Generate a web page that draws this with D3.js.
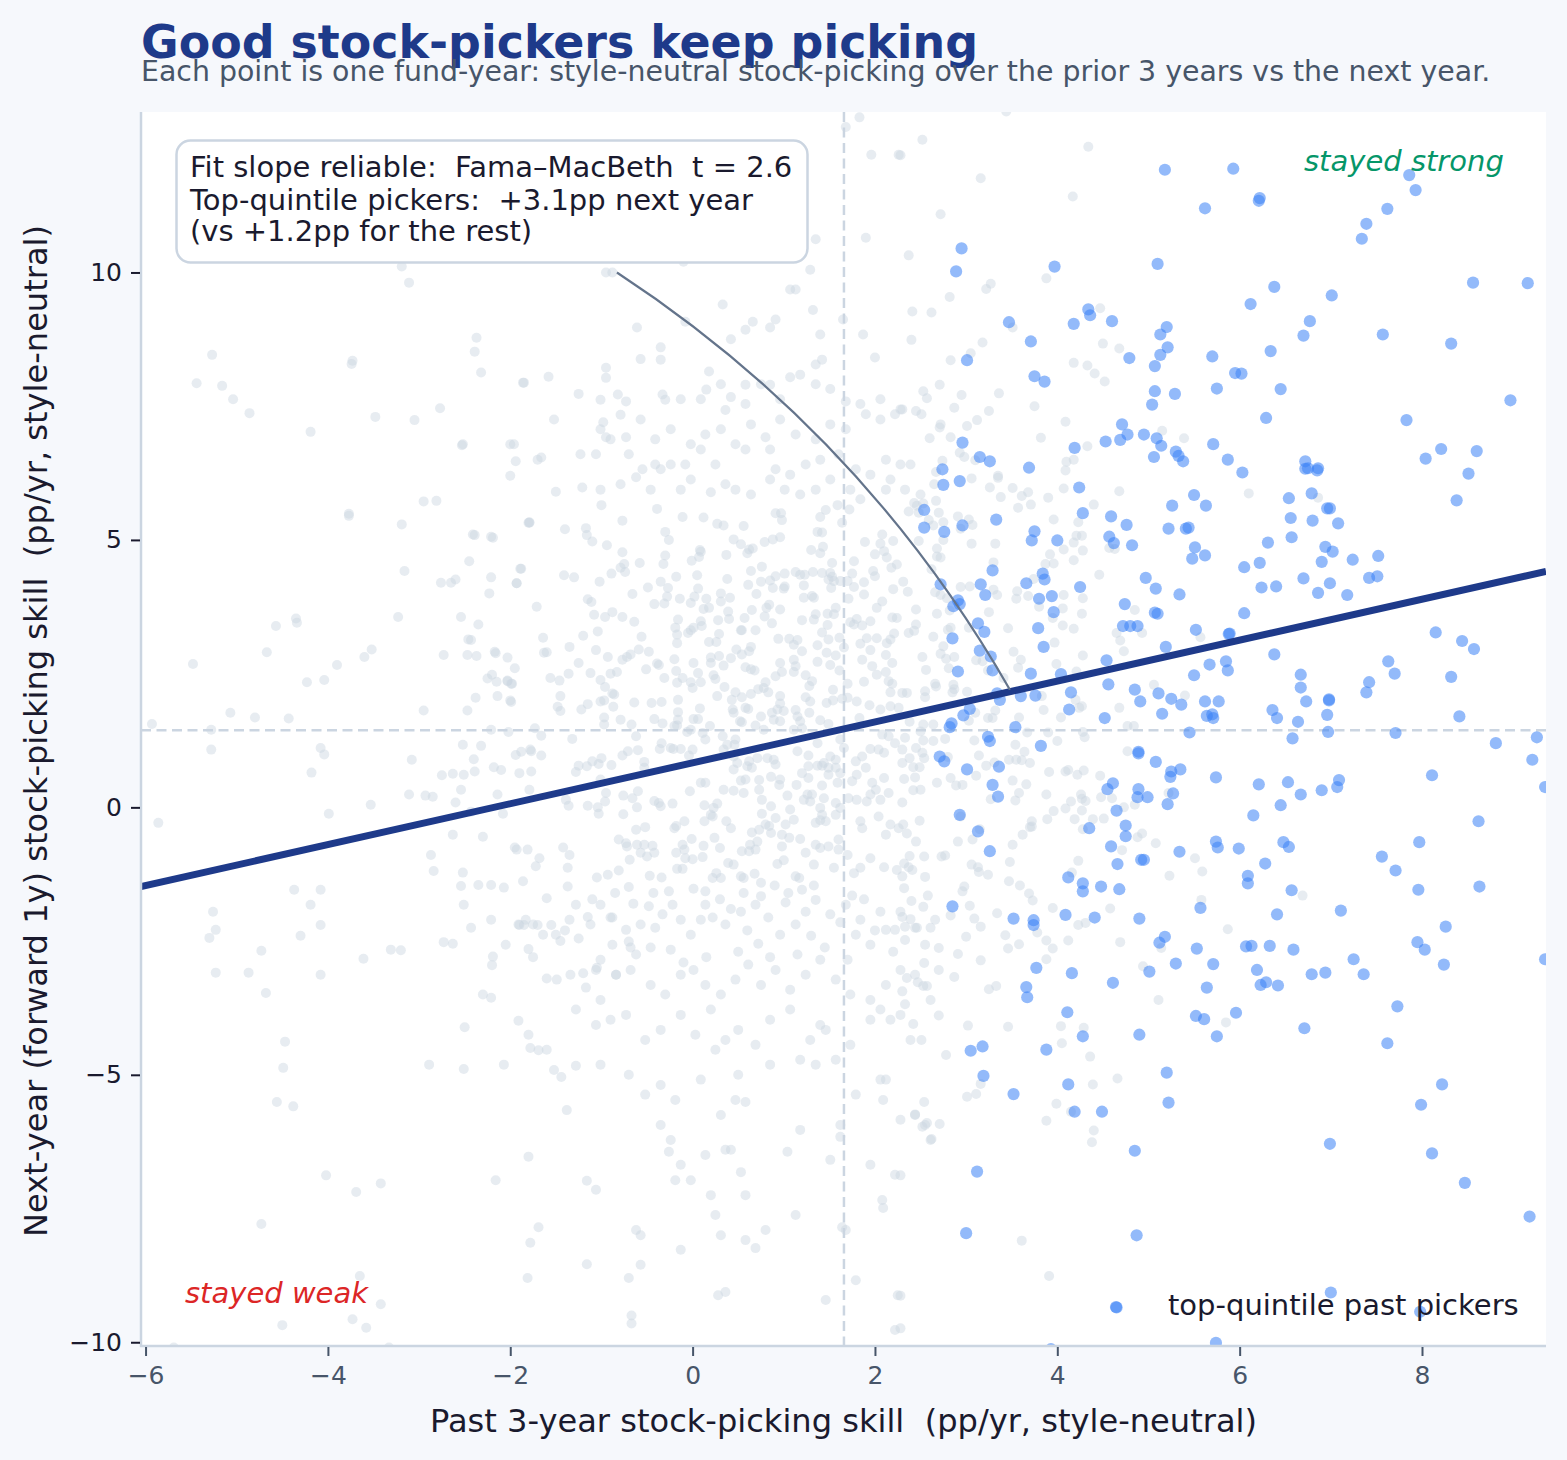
<!DOCTYPE html>
<html>
<head>
<meta charset="utf-8">
<script src="https://cdn.jsdelivr.net/npm/d3@7"></script>
<style>
html,body{margin:0;padding:0;background:#f6f8fc;}
svg{display:block;font-family:"DejaVu Sans",sans-serif;}
text{white-space:pre;}
</style>
</head>
<body>
<svg id="chart" width="1567" height="1460"></svg>
<script>
// Labels and axis settings
const titleText = "Good stock-pickers keep picking";
const subtitleText = "Each point is one fund-year: style-neutral stock-picking over the prior 3 years vs the next year.";
const xLabel = "Past 3-year stock-picking skill  (pp/yr, style-neutral)";
const yLabel = "Next-year (forward 1y) stock-picking skill  (pp/yr, style-neutral)";
const noteLines = ["Fit slope reliable:  Fama–MacBeth  t = 2.6", "Top-quintile pickers:  +3.1pp next year", "(vs +1.2pp for the rest)"];
const legendLabel = "top-quintile past pickers";
const xTicks = [-6, -4, -2, 0, 2, 4, 6, 8];
const yTicks = [-10, -5, 0, 5, 10];
const xDomain = [-6.05, 9.36];
const yDomain = [-10.07, 13.0];

// Reference levels and fitted line
const medianPast = 1.66;
const medianNext = 1.44;
const fitX = [-6.05, 9.36];
const fitY = [-1.48, 4.41];
const calloutFrom = [-0.83, 10.0];
const calloutTo = [3.48, 2.2];

// Fund-years in the top quintile of past skill: [past, next]
const topPickers = [
[5.18,11.92],[5.93,11.94],[5.62,11.2],[2.95,10.45],[2.89,10.02],[3.97,10.11],[5.10,10.16],[4.34,9.31],[4.36,9.2],[3.47,9.07],[4.18,9.04],[4.6,9.09],[3.71,8.71],[5.2,8.98],[5.13,8.84],[5.21,8.6],[5.13,8.46],[4.79,8.4],[5.07,8.25],[5.7,8.43],[3.01,8.36],[3.75,8.06],[3.86,7.96],[5.07,7.78],[5.29,7.73],[5.04,7.53],[5.75,7.83],
[6.22,11.39],[6.21,11.34],[7.86,11.82],[7.93,11.54],[7.62,11.19],[7.39,10.91],[7.34,10.63],[6.38,9.73],[6.12,9.41],[7.01,9.57],[8.56,9.81],[9.16,9.8],[6.77,9.09],[6.7,8.82],[7.57,8.84],[8.32,8.67],[6.34,8.53],[5.95,8.12],[6.02,8.11],[6.45,7.82],[8.97,7.61],
[4.71,7.16],[4.77,6.97],[4.69,6.87],[4.53,6.84],[4.95,6.97],[5.09,6.9],[5.14,6.76],[5.06,6.55],[5.3,6.65],[5.33,6.57],[5.38,6.47],[5.71,6.79],[5.87,6.5],[4.19,6.72],[2.96,6.82],[3.15,6.55],[3.26,6.47],[3.69,6.35],[2.74,6.32],[2.75,6.03],[2.93,6.1],[4.24,5.98],[5.5,5.84],[5.26,5.64],[5.63,5.64],[2.54,5.56],[2.54,5.23],[2.76,5.15],[2.96,5.27],[3.33,5.38],[4.28,5.5],[4.59,5.44],[4.76,5.28],[5.22,5.21],[5.41,5.21],[5.44,5.23],[3.75,5.16],[3.72,4.99],[4.0,4.99],[4.57,5.06],[4.62,4.94],[4.82,4.9],[5.51,4.86],[5.62,4.71],[5.48,4.65],[3.29,4.43],[3.84,4.37],[3.86,4.26],[3.66,4.19],[3.16,4.17],[3.21,3.97],[2.72,4.17],[2.91,3.87],[2.93,3.8],[2.86,3.76],[4.25,4.12],[4.97,4.29],[5.08,4.09],[5.34,3.98],[3.94,3.95],[3.8,3.9],[3.96,3.65],[4.74,3.8],[5.07,3.64],[5.1,3.62],[4.72,3.39],[4.8,3.39],[4.88,3.39],[3.13,3.44],[3.2,3.28],[2.85,3.16],[3.79,3.35],[3.85,3.0],[5.52,3.32],[5.88,3.24],[3.15,2.93],[3.27,2.82],[5.19,3.0],[4.54,2.75],[5.67,2.67],[5.85,2.73],[5.87,2.56],[2.91,2.54],[3.29,2.56],[3.71,2.5],[5.5,2.47],[4.04,2.49],[4.56,2.3],[4.15,2.15],[4.85,2.2],[5.11,2.13],[5.25,2.03],[4.91,1.98],[3.34,2.13],[3.6,2.08],[3.76,2.09],
[6.29,7.28],[7.83,7.24],[8.04,6.52],[8.21,6.7],[8.6,6.66],[8.51,6.24],[8.38,5.74],[6.03,6.26],[6.72,6.47],[6.72,6.33],[6.75,6.34],[6.86,6.34],[6.85,6.3],[6.54,5.78],[6.79,5.87],[6.96,5.59],[6.99,5.59],[6.56,5.41],[6.8,5.36],[7.08,5.31],[6.57,5.05],[6.31,4.95],[6.94,4.87],[7.02,4.78],[6.9,4.59],[7.24,4.63],[7.52,4.7],[6.22,4.57],[6.05,4.49],[7.42,4.29],[7.51,4.32],[6.7,4.28],[6.99,4.19],[6.24,4.11],[6.4,4.13],[6.86,4.01],[7.18,3.97],[6.05,3.63],[5.89,3.25],[8.15,3.27],[8.44,3.11],[8.57,2.96],[6.38,2.86],[7.63,2.73],[7.7,2.5],[8.32,2.44],[6.67,2.48],[6.67,2.24],[7.42,2.34],[7.39,2.15],[6.73,1.98],[6.98,2.0],
[5.36,1.92],[5.62,1.98],[5.77,1.98],[5.15,1.75],[5.64,1.71],[5.7,1.74],[5.71,1.67],[4.13,1.83],[4.52,1.67],[3.54,1.5],[5.45,1.4],[3.37,2.01],[3.04,1.84],[2.97,1.72],[2.84,1.57],[2.82,1.5],[3.24,1.32],[3.26,1.24],[3.82,1.15],[4.89,1.04],[4.89,1.01],[5.08,0.85],[5.35,0.71],[5.25,0.67],[5.24,0.57],[5.74,0.56],[2.71,0.95],[2.76,0.86],[3.01,0.71],[3.36,0.76],[3.29,0.42],[3.35,0.2],[4.61,0.45],[4.55,0.34],[4.89,0.34],[4.88,0.19],[4.99,0.19],[5.27,0.26],[5.21,0.06],[4.65,-0.06],[2.93,-0.14],[4.75,-0.34],[4.75,-0.54],[3.13,-0.45],[4.35,-0.39],[3.26,-0.82],[4.59,-0.73],[5.74,-0.64],[5.76,-0.75],[5.34,-0.83],[4.92,-0.98],[4.95,-0.98],[4.66,-1.06],[4.12,-1.31],[4.28,-1.42],[4.28,-1.57],[4.48,-1.48],[4.68,-1.53],[2.85,-1.85],[5.57,-1.88],[3.52,-2.08],[3.74,-2.11],[3.74,-2.2],[4.09,-2.01],[4.41,-2.06],[4.9,-2.08],[5.18,-2.42],[5.12,-2.53],[5.53,-2.64],[5.3,-2.92],[5.71,-2.93],[3.77,-3.0],[4.16,-3.1],[5.01,-3.07],[4.61,-3.28],[3.66,-3.36],[5.64,-3.37],
[6.98,2.02],[6.36,1.82],[6.41,1.67],[6.64,1.6],[6.96,1.73],[6.97,1.41],[6.58,1.29],[8.41,1.7],[7.71,1.39],[8.81,1.2],[9.26,1.31],[9.21,0.89],[8.11,0.6],[6.21,0.43],[6.53,0.47],[7.09,0.51],[7.07,0.38],[6.9,0.32],[6.67,0.24],[6.45,0.04],[6.15,-0.15],[9.35,0.38],[8.62,-0.26],[7.97,-0.65],[5.99,-0.77],[6.48,-0.65],[6.54,-0.74],[7.56,-0.92],[7.71,-1.18],[6.28,-1.05],[6.09,-1.28],[6.09,-1.42],[6.57,-1.55],[7.96,-1.54],[8.63,-1.48],[7.11,-1.93],[6.41,-2.0],[8.26,-2.23],[7.95,-2.52],[8.03,-2.66],[6.07,-2.6],[6.13,-2.59],[6.33,-2.59],[6.59,-2.66],[7.25,-2.84],[9.35,-2.84],[8.24,-2.94],[6.19,-3.04],[6.79,-3.12],[6.94,-3.09],[7.36,-3.12],[6.29,-3.27],[6.23,-3.32],[6.42,-3.33],
[3.67,-3.55],[4.11,-3.83],[5.52,-3.9],[5.61,-3.96],[5.75,-4.28],[4.9,-4.25],[4.28,-4.28],[3.88,-4.53],[3.18,-4.47],[3.05,-4.55],[5.2,-4.96],[3.19,-5.02],[4.12,-5.18],[5.22,-5.52],[3.52,-5.36],[4.19,-5.69],[4.49,-5.69],[4.85,-6.42],[3.12,-6.81],[3.0,-7.96],[4.87,-8.0],[4.65,-9.35],[5.74,-10.01],[3.93,-10.13],
[5.96,-3.84],[6.71,-4.13],[7.73,-3.72],[7.62,-4.41],[8.22,-5.18],[7.99,-5.56],[6.99,-6.29],[8.11,-6.47],[8.47,-7.02],[9.18,-7.65],[7.0,-9.07],[7.98,-9.43]
];

// All remaining fund-years: [past, next]
const otherFunds = [
[3.44,13.01],[2.52,12.48],[2.28,12.19],[4.34,12.35],[3.16,11.76],[4.17,11.42],[2.72,11.09],[2.37,10.32],[3.88,9.89],[3.27,9.79],[3.22,9.69],[2.82,9.54],[2.41,9.27],[2.62,9.25],[4.47,9.33],[3.51,8.97],[2.4,8.74],[3.18,8.69],[4.5,8.67],[4.68,8.58],[3.05,8.49],[2.83,8.36],[4.18,8.31],[4.33,8.26],[4.41,8.11],[4.52,7.96],[2.71,7.9],[2.53,7.78],[2.57,7.65],[2.95,7.71],[3.36,7.74],[2.87,7.47],[3.75,7.5],[3.25,7.41],[2.45,7.41],[2.3,7.44],
[2.51,7.35],[3.12,7.24],[4.09,7.21],[2.72,7.16],[2.71,7.1],[3.01,7.13],[5.15,7.04],[2.6,6.9],[2.83,6.92],[3.82,6.91],[5.39,6.9],[4.33,6.75],[2.93,6.63],[2.98,6.55],[3.1,6.49],[2.74,6.48],[4.1,6.46],[4.18,6.5],[4.09,6.3],[2.67,6.27],[3.06,6.15],[3.35,6.2],[3.35,6.16],[2.65,6.04],[3.26,5.98],[3.51,5.97],[4.07,5.96],[4.68,5.91],[3.68,5.89],[3.61,5.82],[3.9,5.79],[3.38,5.8],[2.5,5.85],[2.67,5.73],[2.43,5.69],[2.53,5.68],[2.46,5.64],[4.4,5.66],[3.71,5.66],[3.57,5.6],[2.37,5.53],[2.48,5.51],[2.7,5.51],[2.91,5.44],[3.03,5.38],[2.59,5.37],[3.96,5.38],[2.75,5.33],[2.64,5.27],[3.07,5.28],[4.23,5.33],[2.94,5.21],[4.21,5.08],[4.27,5.08],[4.18,4.95],[2.48,4.98],[2.75,5.0],[3.06,4.93],[3.32,4.93],[2.68,4.84],[4.07,4.82],[4.28,4.8],[4.57,4.85],[4.63,4.83],[3.92,4.73],[2.68,4.69],[2.72,4.67],[4.18,4.62],[3.87,4.55],[3.96,4.56],[3.3,4.58],[2.62,4.45],[4.46,4.35],[3.74,4.27],[2.31,4.22],[2.94,4.12],[3.04,4.13],[3.3,4.07],[2.36,4.03],[2.66,4.02],[3.56,4.04],[3.34,3.97],[2.72,3.97],[2.79,3.91],[3.55,3.9],[3.68,3.95],[4.07,3.97],[4.28,3.91],[2.45,3.7],[3.8,3.75],[4.06,3.72],[4.85,3.69],[2.68,3.62],[2.82,3.68],[3.25,3.65],[4.27,3.62],[3.95,3.54],[2.45,3.42],[4.06,3.4],[3.46,3.35],[4.18,3.34],[3.03,3.36],[2.8,3.32],[2.83,3.36],[2.37,3.26],[2.43,3.3],[2.64,3.19],[4.65,3.26],[4.93,3.26],[4.69,3.12],[5.57,3.18],[3.97,3.08],[2.75,3.01],[3.52,2.91],[4.73,2.92],[2.72,2.87],[2.78,2.78],[2.87,2.81],[2.52,2.81],[3.6,2.76],[4.28,2.84],[3.11,2.75],[3.18,2.73],[3.99,2.68],[3.57,2.61],[2.56,2.57],[2.81,2.6],[4.21,2.54],[3.24,2.56],[3.41,2.42],[2.66,2.31],[2.67,2.26],[2.86,2.29],[2.87,2.21],[2.85,2.15],[3.01,2.16],[2.55,2.17],[2.55,2.06],[2.35,2.14],[2.3,2.14],[5.06,2.29],[5.4,2.09],[3.83,2.08],
[4.2,2.01],[4.27,1.89],[4.24,1.86],[3.85,1.82],[4.04,1.68],[4.68,1.86],[3.32,1.81],[3.1,1.77],[3.24,1.67],[3.29,1.67],[3.03,1.62],[3.58,1.68],[2.53,1.55],[2.64,1.55],[2.38,1.6],[2.5,1.42],[3.67,1.4],[3.9,1.4],[4.77,1.52],[4.84,1.52],[4.28,1.41],[4.3,1.31],[2.33,1.3],[2.53,1.25],[2.64,1.24],[2.77,1.28],[3.09,1.25],[4.0,1.24],[3.54,1.17],[3.64,1.04],[2.45,1.11],[2.52,1.02],[2.3,1.08],[4.77,1.05],[3.14,0.97],[2.54,0.92],[2.8,0.94],[2.38,0.92],[3.47,0.89],[3.55,0.89],[3.61,0.88],[3.7,0.83],[3.22,0.78],[3.31,0.84],[2.42,0.75],[2.49,0.75],[2.3,0.83],[3.91,0.66],[4.09,0.67],[4.12,0.7],[4.22,0.61],[4.29,0.69],[4.47,0.59],[3.11,0.59],[2.83,0.55],[2.44,0.56],[2.32,0.53],[3.51,0.5],[3.66,0.43],[2.68,0.46],[2.89,0.41],[2.96,0.42],[2.42,0.32],[2.5,0.33],[3.58,0.27],[3.88,0.24],[3.27,0.15],[3.54,0.13],[4.26,0.24],[4.27,0.16],[4.31,0.12],[4.15,0.11],[4.48,0.19],[4.6,0.17],[4.85,0.05],[4.73,0],[2.3,0.09],[5.22,0.27],[3.96,-0.07],[4.09,-0.02],[4.27,-0.06],[2.94,-0.17],[4.19,-0.22],[4.39,-0.22],[4.51,-0.21],[3.89,-0.22],[2.49,-0.25],[3.72,-0.26],[3.72,-0.36],[3.7,-0.37],[2.31,-0.32],[2.35,-0.49],[3.62,-0.51],[3.15,-0.41],[4.28,-0.41],[4.88,-0.56],[4.93,-0.49],[3.07,-0.6],[2.45,-0.64],[2.91,-0.64],[3.51,-0.7],[5.08,-0.67],[4.71,-0.8],[2.54,-0.92],[2.38,-0.91],[2.73,-0.92],[2.77,-0.9],[5.51,-0.95],[4.23,-1.0],[3.48,-1.02],[3.06,-1.07],[3.13,-1.12],[3.14,-1.21],[2.32,-1.05],[2.37,-1.12],[2.41,-1.17],[3.24,-1.26],[2.55,-1.3],[5.59,-1.2],[5.23,-1.28],[4.16,-1.22],[2.3,-1.29],[3.47,-1.38],[3.59,-1.46],[2.98,-1.48],[2.96,-1.57],[2.32,-1.51],[3.69,-1.61],[3.73,-1.74],[2.58,-1.65],[5.58,-1.73],[2.53,-1.86],[3.04,-1.84],[3.95,-1.88],[4.58,-1.89],[2.83,-2.02],[3.34,-1.98],[3.09,-2.08],[2.39,-2.09],[2.3,-2.05],[2.33,-2.23],[2.46,-2.25],[2.61,-2.25],[3.16,-2.23],[4.23,-2.2],[4.31,-2.16],[3.78,-2.34],[3.0,-2.42],[3.43,-2.39],[3.88,-2.49],[3.95,-2.64],[4.12,-2.49],[4.69,-2.52],[5.14,-2.63],[2.7,-2.63],[3.58,-2.56],[3.46,-2.64],[2.91,-2.74],[3.88,-2.84],[3.16,-2.86],[2.54,-2.91],[4.94,-2.97],[2.7,-3.04],[2.87,-3.17],[2.35,-3.19],[2.47,-3.27],[2.57,-3.34],[2.53,-3.34],[3.25,-3.4],[3.33,-3.34],
[5.11,-3.6],[2.3,-3.44],[2.33,-3.68],[2.7,-3.89],[2.42,-4.05],[3.02,-4.08],[3.46,-4.1],[4.04,-4.09],[4.29,-4.12],[5.85,-4.02],[2.51,-4.35],[4.05,-4.41],[2.78,-4.63],[4.36,-4.66],[4.66,-5.07],[3.16,-5.17],[4.39,-5.18],[3.11,-5.36],[3.01,-5.41],[2.54,-5.51],[3.99,-5.54],[2.44,-5.74],[4.15,-5.69],[2.57,-5.9],[2.52,-5.97],[2.71,-5.92],[3.88,-5.86],[4.4,-6.04],[4.38,-6.26],[2.62,-6.2],[3.61,-8.1],[3.91,-8.76],[2.28,-6.88],[2.28,-9.13],[2.28,-9.74],
[6.1,5.87],[6.86,5.79],[5.87,-2.28],[6.69,-1.65],
[-5.27,8.46],[-5.44,7.93],[-5.16,7.88],[-5.04,7.63],[-4.86,7.37],[-4.19,7.02],[-3.73,8.35],[-3.74,8.29],[-2.37,8.78],[-2.39,8.52],[-2.32,8.13],[-1.85,7.94],[-3.48,7.3],[-3.05,7.24],[-2.77,7.46],[-2.52,6.79],[-1.96,6.79],[-2.0,6.2],[-2.81,5.73],[-3.77,5.49],[-3.77,5.45],[-3.19,5.29],[-2.39,5.09],[-2.19,5.04],[-1.8,5.32],[-3.16,4.42],[-2.65,4.2],[-2.23,4.0],[-1.89,4.46],[-1.93,4.19],[-3.23,3.56],[-2.54,3.56],[-4.57,3.39],[-4.35,3.53],[-4.34,3.45],[-4.67,2.9],[-2.46,3.14],[-3.52,2.95],[-3.6,2.81],[-2.17,2.91],[-2.73,2.85],[-2.37,2.83],[-5.48,2.68],[-3.9,2.66],[-4.04,2.38],[-4.23,2.34],[-2.25,2.41],[-2.03,2.36],[-1.98,2.31],[-2.14,2.08],[-2.0,2.0],
[-1.79,5.32],[-1.79,5.33],[-1.0,5.65],[-0.39,5.58],[-0.11,5.43],[0.12,5.42],[0.27,5.3],[0.34,5.27],[0.56,5.26],[-0.77,5.36],[-1.17,5.22],[-1.16,5.09],[-1.1,4.97],[-0.3,5.15],[-0.26,5.0],[-0.94,4.9],[-0.77,4.77],[0.45,5.01],[0.53,4.92],[0.62,4.82],[0.66,4.84],[0.6,4.75],[0.79,4.96],[0.88,5.01],[0.96,5.05],[0.91,5.5],[0.97,5.5],[0.98,5.37],[1.4,5.43],[1.46,5.56],[1.59,5.65],[1.72,5.57],[1.64,5.32],[1.37,5.15],[1.42,5.14],[1.3,4.81],[1.4,4.75],[1.43,4.87],[1.89,4.96],[2.06,4.93],[2.08,5.1],[2.0,4.73],[2.1,4.79],[2.13,4.67],[2.2,4.98],[1.77,4.6],[2.18,4.48],[2.24,4.54],[1.53,4.57],[0.08,4.81],[0.09,4.78],[-0.01,4.61],[0.07,4.68],[0.37,4.72],[-0.3,4.71],[-0.32,4.55],[-0.58,4.57],[-0.75,4.55],[-0.79,4.48],[-0.74,4.4],[-0.89,4.37],[-1.41,4.34],[-1.88,4.46],[-1.93,4.19],[-1.02,4.22],[-0.49,4.11],[-0.35,4.22],[-0.27,4.1],[-0.18,4.31],[0.05,4.34],[0.06,4.09],[0.38,4.27],[0.64,4.42],[0.76,4.5],[0.61,4.16],[0.75,4.22],[0.85,4.24],[0.91,4.32],[1.01,4.37],[1.13,4.4],[1.18,4.35],[1.23,4.35],[1.32,4.4],[1.42,4.38],[1.51,4.38],[1.53,4.31],[1.49,4.26],[1.55,4.23],[1.62,4.23],[1.7,4.23],[1.75,4.37],[1.77,4.12],[1.88,4.21],[1.98,4.42],[2.0,4.32],[0.88,4.1],[1.0,4.09],[1.01,4.13],[1.22,4.15],[1.52,4.1],[-0.66,3.99],[-1.15,3.89],[-1.11,3.84],[-1.71,3.75],[-0.42,3.8],[-0.31,3.81],[-0.28,3.94],[-0.14,3.9],[-0.02,3.82],[0.02,3.94],[0.15,3.9],[0.31,4.0],[0.31,3.85],[0.41,3.92],[0.7,3.99],[1.22,3.92],[1.31,3.95],[1.33,3.92],[1.71,3.9],[1.88,3.98],[2.2,4.08],[2.08,3.85],[2.02,3.73],[0.12,3.71],[0.18,3.73],[0.84,3.79],[0.81,3.73],[0.79,3.57],[0.96,3.7],[0.65,3.69],[0.57,3.54],[0.39,3.66],[0.4,3.52],[1.57,3.73],[1.55,3.61],[1.48,3.62],[1.35,3.61],[1.33,3.51],[1.2,3.5],[-0.88,3.65],[-0.96,3.56],[-1.08,3.6],[-0.77,3.56],[-0.64,3.47],[-0.16,3.51],[-0.19,3.36],[0.09,3.48],[0.1,3.39],[0.01,3.36],[-0.02,3.31],[0.28,3.5],[-0.17,3.23],[-0.05,3.26],[0.87,3.44],[1.48,3.41],[1.73,3.46],[1.8,3.52],[1.77,3.42],[1.86,3.4],[1.95,3.48],[2.19,3.55],[2.24,3.54],[0.53,3.31],[0.54,3.31],[0.69,3.31],[-1.04,3.29],[-1.2,3.21],[-1.64,3.17],[-0.56,3.19],[0.29,3.24],[-0.17,3.07],[0.18,3.09],[0.26,3.09],[0.94,3.15],[1.06,3.15],[1.15,3.13],[1.11,3.04],[1.42,3.27],[1.49,3.14],[1.61,3.17],[1.66,2.99],[1.37,3.03],[1.84,3.06],[1.91,3.16],[2.02,3.16],[2.13,3.07],[2.17,3.14],[2.21,3.25],[1.95,2.94],[-1.06,2.94],[-1.63,2.89],[-0.59,2.95],[-0.48,2.91],[-0.72,2.81],[-0.68,2.86],[-0.77,2.76],[-0.93,2.81],[-0.2,2.77],[0.48,2.95],[0.54,2.86],[0.62,2.92],[0.64,3.0],[0.42,2.79],[0.2,2.8],[0.29,2.83],[0.2,2.7],[0.34,2.65],[0.01,2.7],[-0.39,2.69],[-0.37,2.66],[-0.51,2.58],[-0.18,2.55],[0.06,2.51],[0.58,2.62],[0.64,2.58],[0.68,2.56],[0.96,2.7],[1.11,2.76],[1.13,2.64],[1.11,2.53],[1.2,2.92],[1.37,2.72],[1.47,2.89],[1.57,2.84],[1.51,2.66],[1.61,2.56],[1.86,2.76],[1.97,2.64],[2.12,2.85],[2.19,2.7],[-1.36,2.5],[-1.56,2.42],[-1.46,2.37],[-1.12,2.51],[-0.9,2.5],[-0.83,2.53],[-1.01,2.38],[-2.03,2.37],[-1.99,2.31],[-0.31,2.42],[-0.11,2.42],[-0.02,2.34],[0.0,2.23],[-0.17,2.33],[0.09,2.34],[0.23,2.47],[0.25,2.4],[0.91,2.45],[0.98,2.53],[1.24,2.47],[1.31,2.36],[1.28,2.27],[1.7,2.31],[1.88,2.35],[2.02,2.48],[2.12,2.53],[2.15,2.36],[2.19,2.31],[2.17,2.15],[0.8,2.34],[0.78,2.23],[0.83,2.15],[0.72,2.21],[0.64,2.12],[0.47,2.15],[0.43,2.01],[0.35,2.25],[0.27,2.08],[-0.96,2.25],[-0.88,2.13],[-0.86,2.11],[-0.97,2.0],[-1.01,1.98],[-1.45,2.08],[-1.99,1.97],[-1.15,1.93],[-1.22,1.83],[-1.48,1.88],[-1.45,1.8],[-0.64,1.96],[-0.45,1.95],[-0.34,1.97],[-0.16,2.01],[0.08,1.85],[-0.87,1.88],[0.54,2.06],[0.96,2.08],[0.96,1.94],[1.24,2.06],[1.29,1.98],[1.54,2.2],[1.47,1.95],[1.54,2.0],[1.64,2.03],[1.7,2.05],[1.8,1.98],[1.94,1.91],[2.06,1.83],[2.17,1.89],[2.26,1.86],[0.44,1.83],[0.45,1.77],[0.58,1.86],[0.61,1.84],[0.87,1.77],[0.93,1.83],[1.0,1.8],[0.89,1.64],[0.96,1.61],[1.13,1.82],[1.15,1.7],[1.18,1.61],[1.28,1.77],[0.75,1.7],[0.52,1.61],[0.54,1.59],[1.4,1.63],[1.49,1.56],[-0.16,1.78],[-0.16,1.64],[-0.17,1.53],[0.01,1.65],[0.06,1.65],[-0.97,1.68],[-0.97,1.55],[-0.79,1.64],[-0.67,1.55],[-0.42,1.65],[-0.33,1.57],[-0.2,1.52],[0.19,1.52],[0.69,1.53],[0.78,1.45],[1.11,1.45],[1.2,1.48],[1.83,1.67],[-1.73,1.48],[-2.02,1.41],[-1.66,1.34],[-1.32,1.28],[-0.62,1.33],[-0.06,1.41],[-0.02,1.45],[0.11,1.39],[0.14,1.27],[0.33,1.33],[0.47,1.27],[0.46,1.17],[0.38,1.17],[1.62,1.27],[1.37,1.2],[2.08,1.36],[2.15,1.33],[2.22,1.2],[-0.34,1.2],[-0.36,1.09],[-0.24,1.11],[-0.21,1.09],[-0.13,1.09],[-0.6,1.07],[-0.71,1.05],[-0.77,0.97],[-1.77,1.05],[-1.66,0.97],[-1.94,0.98],[0.0,1.08],[-0.04,0.97],[0.34,1.08],[0.45,0.95],[1.15,1.05],[1.27,0.97],[1.66,1.11],[1.95,1.09],[1.86,0.95],[1.79,0.86],[2.04,1.08],[2.1,1.02],[1.51,0.95],[1.44,0.83],[1.57,0.89],[0.82,0.92],[0.89,0.89],[0.91,0.8],[0.71,0.92],[0.62,0.86],[0.6,0.77],[0.65,0.74],[0.49,0.83],[0.45,0.71],[-1.0,0.92],[-1.1,0.86],[-1.03,0.81],[-1.16,0.77],[-1.25,0.78],[-0.89,0.79],[-0.53,0.85],[-0.53,0.74],[-1.28,0.66],[-1.77,0.67],[-1.9,0.64],[1.37,0.78],[1.42,0.78],[1.49,0.74],[1.57,0.74],[1.62,0.64],[1.2,0.64],[1.27,0.77],[1.27,0.55],[1.49,0.61],[1.8,0.61],[1.9,0.74],[0.86,0.57],[0.96,0.52],[0.73,0.51],[0.58,0.52],[0.53,0.5],[1.14,0.42],[1.42,0.41],[1.59,0.46],[2.1,0.55],[1.97,0.46],[1.75,0.49],[0.09,0.46],[0.14,0.46],[-1.01,0.52],[-1.79,0.33],[-0.95,0.27],[-0.96,0.11],[-1.04,0.0],[-1.03,-0.12],[-1.15,0.03],[-0.76,0.22],[-0.66,0.17],[-0.6,0.3],[-0.61,0.0],[-0.76,-0.13],[-1.39,0.14],[-1.36,0.03],[-0.03,0.3],[0.34,0.33],[0.45,0.31],[0.56,0.27],[0.73,0.33],[0.76,0.14],[0.86,0.02],[0.95,0.42],[1.04,0.22],[1.26,0.24],[1.31,0.24],[1.22,0.14],[1.29,0.11],[1.44,0.17],[1.57,0.08],[1.71,0.17],[1.8,0.14],[1.91,0.11],[1.95,0.24],[2.01,0.33],[2.15,0.27],[2.06,0.14],[-0.42,0.12],[-0.37,0.08],[-0.35,0.02],[-0.22,0.07],[0.13,0.04],[0.27,0.07],[0.23,-0.01],[0.2,-0.14],[0.22,-0.17],[0.76,-0.12],[1.07,-0.04],[1.4,-0.01],[1.62,-0.01],[1.57,-0.14],[1.42,-0.14],[1.4,-0.24],[1.35,-0.29],[1.46,-0.26],[0.91,-0.2],[0.8,-0.32],[0.84,-0.35],[1.02,-0.32],[1.11,-0.23],[1.84,-0.26],[2.04,-0.17],[2.17,-0.32],[2.26,-0.39],[-0.09,-0.26],[-0.18,-0.35],[-0.2,-0.39],[0.13,-0.26],[0.37,-0.26],[0.42,-0.39],[-0.62,-0.42],[-0.52,-0.37],[0.65,-0.47],[0.73,-0.42],[0.86,-0.48],[0.98,-0.51],[1.06,-0.57],[1.18,-0.59],[1.6,-0.6],[1.86,-0.39],[2.12,-0.51],[-0.81,-0.6],[-0.73,-0.67],[-0.72,-0.73],[-0.61,-0.7],[-0.53,-0.7],[-0.44,-0.72],[-0.42,-0.85],[-0.57,-0.85],[-0.5,-0.92],[-1.42,-0.75],[-1.35,-0.89],[-1.93,-0.79],[-1.81,-0.79],[-1.68,-0.95],[-0.01,-0.59],[-0.11,-0.7],[-0.09,-0.79],[-0.18,-0.85],[-0.08,-0.95],[0.12,-0.72],[0.24,-0.57],[0.3,-0.76],[0.54,-0.82],[0.63,-0.7],[0.71,-0.64],[0.62,-0.82],[0.69,-0.79],[0.98,-0.73],[1.24,-0.85],[1.35,-0.7],[1.4,-0.76],[1.49,-0.73],[1.6,-0.79],[1.7,-0.89],[1.95,-0.95],[-0.69,-0.98],[-0.81,-1.18],[-0.93,-1.26],[-1.05,-1.31],[-1.37,-1.13],[-1.37,-1.48],[-1.86,-1.38],[-2.07,-1.5],[0.0,-0.97],[0.11,-0.93],[-0.17,-1.15],[-0.11,-1.15],[-0.47,-1.28],[-0.34,-1.31],[0.39,-1.04],[0.45,-1.07],[0.93,-1.06],[1.0,-0.99],[1.33,-1.07],[1.55,-1.13],[1.77,-1.23],[1.84,-1.13],[2.1,-1.12],[2.24,-1.17],[0.22,-1.32],[0.26,-1.23],[0.31,-1.32],[0.53,-1.29],[0.56,-1.32],[0.68,-1.24],[0.75,-1.41],[0.9,-1.46],[1.13,-1.29],[1.17,-1.32],[1.33,-1.46],[1.2,-1.54],[-0.7,-1.49],[-0.43,-1.6],[-0.26,-1.57],[0.01,-1.52],[0.14,-1.57],[0.56,-1.6],[0.75,-1.66],
[-5.93,1.56],[-5.28,1.45],[-5.07,1.77],[-4.8,1.68],[-4.43,1.66],[-5.86,-0.29],[-5.28,1.08],[-4.08,1.11],[-4.04,0.99],[-4.18,0.65],[-3.99,-0.12],[-5.26,-1.95],[-5.3,-2.44],[-5.23,-2.29],[-5.23,-3.09],[-4.87,-3.09],[-4.73,-2.68],[-4.68,-3.47],[-4.37,-1.54],[-4.08,-1.54],[-4.19,-1.82],[-4.08,-2.2],[-4.3,-2.4],[-4.08,-3.13],[-4.47,-4.38],[-4.49,-4.87],[-4.56,-5.51],[-4.38,-5.59],[-4.02,-6.88],[-4.73,-7.79],[-3.69,-7.19],[-3.42,-7.03],[-3.65,-8.76],[-3.73,-9.57],[-3.58,-9.73],[-3.42,-9.29],[-4.5,-9.68],[-5.69,-10.1],[-3.33,-10.1],
[-3.11,0.24],[-2.93,0.22],[-3.08,0.89],[-2.95,1.81],[-3.53,0.05],[-2.87,-0.89],[-2.84,-1.19],[-2.63,-0.51],[-2.51,0.61],[-2.63,0.63],[-2.54,0.33],[-2.6,0.09],[-2.43,-0.08],[-2.21,1.45],[-2.14,0.24],[-2.73,-2.52],[-2.63,-2.55],[-2.43,-2.25],[-3.2,-2.67],[-3.31,-2.66],[-3.61,-2.83],[-2.54,-1.47],[-2.35,-1.45],[-2.52,-1.22],[-2.51,-1.82],[-2.21,-1.45],[-2.21,-2.1],[-2.19,-2.79],[-2.2,-2.95],[-2.05,-2.57],[-2.21,-3.56],[-2.3,-3.5],[-2.5,-4.11],[-2.51,-4.89],[-2.89,-4.81],[-1.91,-3.99],[-1.8,-4.25],[-1.78,-4.5],[-2.07,-4.81],[-1.69,-4.54],[-1.6,-4.53],[-1.52,-4.91],[-1.44,-5.04],[-1.28,-4.83],[-1.38,-5.66],[-1.8,-6.53],[-2.16,-6.97],[-1.69,-7.85],[-1.78,-8.14],[-1.81,-8.8],[-1.16,-8.54],[-1.16,-6.98],[-1.06,-7.15],[-0.7,-8.8],[-0.67,-9.5],[-0.67,-9.65],
[-2.32,1.15],[-2.18,0.75],[-2.4,0.9],[-2.08,-0.12],[-1.95,-0.75],[-2.3,-0.55],[-2.75,0.6],[-2.85,0.2],[-1.72,-1.1],[-1.6,-1.7],[-1.85,-2.2],[-1.9,-2.2],[-1.7,-2.2],[-1.55,-2.2],[-1.35,-2.1],[-1.15,-2.05],[-1.45,-2.5],[-1.25,-2.45],[-1.8,-2.65],[-1.75,-2.8],[-1.4,-2.3],[-1.6,-3.2],[-1.2,-3.1],[-1.05,-3.0],
[-1.75,-2.19],[-1.83,-2.1],[-1.91,-2.19],[-1.5,-2.38],[-1.64,-2.38],[-1.28,-1.82],[-1.12,-2.19],[-1.06,-3.04],[-1.01,-1.82],[-0.9,-2.06],[-0.88,-2.06],[-0.84,-3.13],[-0.73,-2.29],[-0.7,-2.51],[-0.57,-2.19],[-0.88,-2.57],[-1.01,-2.85],[-0.68,-2.62],[-0.62,-2.75],[-0.41,-2.25],[-0.13,-2.1],[-0.02,-2.38],[-0.24,-2.66],[-0.46,-2.62],[0.09,-2.1],[0.14,-1.82],[0.22,-2.06],[0.36,-2.19],[0.53,-1.95],[0.69,-1.82],[0.83,-2.06],[0.96,-2.38],[1.13,-2.19],[1.24,-1.95],[1.35,-1.73],[1.51,-2.0],[1.68,-1.82],[1.84,-2.1],[2.06,-1.95],[2.12,-2.29],[1.95,-2.57],[1.79,-2.38],[2.28,-1.95],[2.33,-2.48],[2.22,-2.29],[2.55,-2.57],[2.44,-2.25],[2.66,-2.1],
[-1.49,-3.22],[-1.34,-3.13],[-1.17,-3.37],[-1.01,-3.6],[-0.84,-3.13],[-0.68,-3.04],[-0.46,-3.32],[-0.3,-3.5],[-0.13,-3.13],[0.01,-3.04],[0.14,-3.32],[0.31,-3.5],[0.47,-3.22],[0.61,-2.94],[0.75,-3.32],[0.91,-3.04],[1.07,-3.41],[1.24,-3.13],[1.4,-2.85],[1.57,-3.22],[1.73,-3.5],[1.95,-3.6],[2.12,-3.32],[2.28,-3.04],[2.44,-3.13],[2.61,-3.6],[2.06,-3.78],[2.28,-3.88],
[-1.28,-3.78],[-1.06,-4.07],[-0.9,-3.97],[-0.73,-3.88],[-0.52,-4.35],[-0.35,-4.16],[-0.13,-3.88],[0.03,-4.25],[0.2,-3.78],[0.36,-4.35],[0.5,-4.16],[0.69,-4.44],[0.85,-3.97],[1.07,-3.78],[1.29,-4.35],[1.46,-4.16],[1.73,-4.44],[1.95,-3.97],[2.17,-3.97],[1.4,-4.07],[1.57,-4.72],[2.39,-4.35],
[-1.01,-4.81],[-0.7,-5.0],[-0.52,-5.37],[-0.35,-5.19],[-0.19,-5.47],[0.09,-5.09],[0.25,-4.53],[0.5,-5.0],[0.58,-5.51],[0.85,-4.81],[1.18,-4.72],[1.35,-4.81],[1.79,-5.37],[2.12,-5.09],[2.44,-5.75],[2.55,-5.94],[2.61,-6.22],[2.28,-5.84],[2.06,-5.09],[2.09,-5.47],[1.62,-5.94],[1.62,-6.16],[-0.35,-5.94],[-0.24,-6.22],[0.31,-5.75],[0.47,-5.47],[1.18,-6.03],[-0.02,-6.97],[0.14,-6.5],[0.36,-6.4],[0.42,-6.4],[-0.26,-6.44],[-0.13,-6.68],[1.04,-6.44],[1.51,-6.59],[1.95,-6.68],[2.22,-6.87],[2.08,-7.34],[2.09,-7.49],[0.2,-7.25],[0.25,-7.62],[0.58,-7.25],[0.31,-8.0],[0.58,-8.09],[0.8,-7.9],[1.13,-7.62],[0.69,-8.24],[-0.13,-8.27],[-0.19,-6.97],[0.53,-6.82],[1.64,-7.85],[1.68,-7.9],[1.79,-8.84],[2.25,-9.12],[2.22,-9.77],[1.46,-9.21],[-0.57,-8.0],[-0.62,-7.9],[-0.57,-8.55],[0.28,-9.12],[0.36,-9.06],
[-0.57,8.38],[-0.33,7.72],[-0.13,7.63],[0.09,7.63],[0.31,7.91],[0.42,7.67],[0.58,7.54],[0.75,7.91],[0.96,7.63],[1.18,8.09],[1.35,7.91],[1.51,7.82],[1.68,7.59],[1.84,7.54],[2.06,7.63],[2.22,7.35],
[-1.01,7.07],[-0.9,6.88],[-0.73,6.92],[-0.57,7.25],[-0.41,6.88],[-0.24,7.07],[-0.02,6.79],[0.14,6.97],[0.31,7.07],[0.47,6.79],[0.64,7.16],[0.8,6.92],[0.96,7.25],[1.13,6.97],[1.35,6.88],[1.51,7.16],[1.68,7.07],[1.9,7.35],[2.06,7.25],[2.28,7.44],
[-1.52,7.25],[-1.23,6.6],[-1.06,6.6],[-0.95,6.92],[-0.7,6.6],[-0.55,6.32],[-0.41,6.41],[-0.24,6.41],[-0.08,6.41],[0.09,6.69],[0.25,6.41],[0.58,6.69],[0.85,6.69],[0.91,6.32],[1.07,6.22],[1.24,6.41],[1.4,6.5],[1.6,6.6],[1.79,6.32],[1.95,6.22],[2.12,6.5],[2.28,6.41],[2.39,6.41],[2.17,6.13],
[-2.0,6.79],[-1.94,6.47],[-1.66,6.54],[-1.21,5.98],[-1.01,5.94],[-0.79,6.04],[-0.62,6.17],[-0.46,5.94],[-0.35,6.32],[-0.13,5.94],[-0.02,6.13],[0.2,5.89],[0.36,6.04],[0.47,5.94],[0.64,5.85],[0.85,6.13],[1.01,5.94],[1.18,5.85],[1.35,5.94],[1.51,6.13],[1.73,5.94],[1.84,5.76],[2.12,5.94],[2.33,5.94],
[1.68,12.72],[1.83,12.9],[1.96,12.2],[2.26,12.2],[1.9,10.65],[1.35,10.62],[1.07,10.5],[-0.1,10.2],[0.2,10.28],[0.33,9.4],[1.07,9.68],[1.13,9.68],[1.29,10.05],[-0.08,9.08],[0.66,9.08],[0.91,9.12],[0.58,8.93],[0.85,8.97],[1.4,8.84],[1.65,9.12],[1.87,8.84],[1.32,9.3],[0.42,8.75],[-0.61,8.97],[-0.95,10.0],[-0.88,10.0],[-0.35,8.6],[2.0,8.41],[1.42,8.37],[1.07,8.04],[0.85,7.9],[1.35,8.28],[0.58,7.9],[0.18,8.15],[0.15,7.81],[-0.35,8.37],[-0.95,8.22],[-0.95,8.03],[-1.58,8.05],[-1.86,7.94],[-1.25,7.73],[-1.01,7.62],[-0.82,7.72],[-0.73,7.59],[-0.79,7.34],[-0.98,7.2],[-0.3,7.62],[0.36,7.43],
[-3.19,10.11],[-3.11,9.81],[-1.3,4.3],[-1.4,5.2],[-1.5,5.9],[-1.7,6.5],[-1.35,3.0],[-1.25,2.7],[-1.95,2.6],[-1.6,2.9],
[-2.35,3.42],[-2.43,3.13],[-2.47,2.85],[-2.16,2.88],[-2.03,2.8],[-2.6,4.26],[-2.76,4.2],[-2.45,4.6],[-2.21,4.3],[-2.21,5.06],[-2.41,5.1],[-2.53,6.77],[-2.95,5.72],[-2.52,1.17],[-2.39,0.67],[-2.1,0.7],[-1.88,1.04],[-1.78,1.08],[-2.2,2.48],[-2.15,2.35],[-2.38,2.05],[-2.47,1.81],
[0.3,-1.72],[0.42,-1.9],[0.6,-2.3],[0.72,-2.55],[1.02,-1.78],[1.3,-2.4],[1.45,-2.62],[1.62,-2.15],[1.88,-1.72],[2.0,-2.3],[-0.22,-1.82],[-0.33,-2.0],[-0.48,-1.85],[-0.65,-1.8],[-0.85,-1.6],[-1.1,-1.72],[1.15,-2.75],[0.85,-2.8],[0.5,-2.7],[0.15,-2.8],[-0.1,-2.9],[1.7,-2.85],[2.2,-2.7],[2.4,-1.75],[1.75,-1.65],[1.05,-1.6]
];

const W = 1567, H = 1460;
const plot = {left: 141, right: 1546, top: 112, bottom: 1346};
const svg = d3.select("#chart");

const x = d3.scaleLinear().domain(xDomain).range([plot.left, plot.right]);
const y = d3.scaleLinear().domain(yDomain).range([plot.bottom, plot.top]);

svg.append("rect").attr("width", W).attr("height", H).attr("fill", "#f6f8fc");
svg.append("rect").attr("x", plot.left).attr("y", plot.top)
  .attr("width", plot.right - plot.left).attr("height", plot.bottom - plot.top).attr("fill", "#ffffff");

svg.append("clipPath").attr("id", "plot-clip").append("rect")
  .attr("x", plot.left).attr("y", plot.top)
  .attr("width", plot.right - plot.left).attr("height", plot.bottom - plot.top);

const inner = svg.append("g").attr("clip-path", "url(#plot-clip)");

// Median guides
const guideStyle = s => s.attr("stroke", "#cbd5e1").attr("stroke-width", 2.5).attr("stroke-dasharray", "10,5.5");
inner.append("line").attr("x1", x(medianPast)).attr("x2", x(medianPast))
  .attr("y1", plot.top).attr("y2", plot.bottom).call(guideStyle);
inner.append("line").attr("x1", plot.left).attr("x2", plot.right)
  .attr("y1", y(medianNext)).attr("y2", y(medianNext)).call(guideStyle);

// Scatter layers
inner.append("g").selectAll("circle").data(otherFunds).join("circle")
  .attr("cx", d => x(d[0])).attr("cy", d => y(d[1])).attr("r", 5)
  .attr("fill", "#cbd5e1").attr("fill-opacity", 0.46);
inner.append("g").selectAll("circle").data(topPickers).join("circle")
  .attr("cx", d => x(d[0])).attr("cy", d => y(d[1])).attr("r", 6.1)
  .attr("fill", "#3b82f6").attr("fill-opacity", 0.55);

// Fitted line
inner.append("line")
  .attr("x1", x(fitX[0])).attr("y1", y(fitY[0]))
  .attr("x2", x(fitX[1])).attr("y2", y(fitY[1]))
  .attr("stroke", "#1e3a8a").attr("stroke-width", 7);

// Curved callout from the note box down to the fitted line
const cx0 = x(calloutFrom[0]), cy0 = y(calloutFrom[1]);
const cx1 = x(calloutTo[0]), cy1 = y(calloutTo[1]);
const bend = 0.12;
const ctrlX = (cx0 + cx1) / 2 + bend * (cy1 - cy0);
const ctrlY = (cy0 + cy1) / 2 - bend * (cx1 - cx0);
const calloutPath = d3.path();
calloutPath.moveTo(cx0, cy0);
calloutPath.quadraticCurveTo(ctrlX, ctrlY, cx1, cy1);
inner.append("path").attr("d", calloutPath.toString()).attr("fill", "none")
  .attr("stroke", "#64748b").attr("stroke-width", 2.2);

// Spines and ticks
const spine = "#cbd5e1";
svg.append("line").attr("x1", plot.left).attr("x2", plot.left).attr("y1", plot.top).attr("y2", plot.bottom + 1)
  .attr("stroke", spine).attr("stroke-width", 2.5);
svg.append("line").attr("x1", plot.left - 1).attr("x2", plot.right).attr("y1", plot.bottom).attr("y2", plot.bottom)
  .attr("stroke", spine).attr("stroke-width", 2.5);

const xAxis = svg.append("g").attr("transform", `translate(0,${plot.bottom + 1})`)
  .call(d3.axisBottom(x).tickValues(xTicks).tickSize(9).tickPadding(10).tickFormat(d => String(d).replace("-", "−")));
const yAxis = svg.append("g").attr("transform", `translate(${plot.left - 1},0)`)
  .call(d3.axisLeft(y).tickValues(yTicks).tickSize(9).tickPadding(9).tickFormat(d => String(d).replace("-", "−")));
xAxis.select(".domain").remove();
yAxis.select(".domain").remove();
xAxis.selectAll("line").attr("stroke", "#475569").attr("stroke-width", 2);
yAxis.selectAll("line").attr("stroke", "#1a1a2e").attr("stroke-width", 2);
xAxis.selectAll("text").attr("fill", "#475569").attr("font-size", 25).attr("font-family", "DejaVu Sans");
yAxis.selectAll("text").attr("fill", "#1a1a2e").attr("font-size", 25).attr("font-family", "DejaVu Sans");

// Axis titles
svg.append("text").attr("x", 843.5).attr("y", 1432).attr("text-anchor", "middle")
  .attr("font-size", 32.1).attr("fill", "#1a1a2e").text(xLabel);
svg.append("text").attr("transform", "translate(47,731) rotate(-90)").attr("text-anchor", "middle")
  .attr("font-size", 32.1).attr("fill", "#1a1a2e").text(yLabel);

// Heading
svg.append("text").attr("x", 141).attr("y", 58).attr("font-size", 45.9).attr("font-weight", 700)
  .attr("fill", "#1e3a8a").text(titleText);
svg.append("text").attr("x", 141).attr("y", 81).attr("font-size", 28.4)
  .attr("fill", "#475569").text(subtitleText);

// Quadrant captions
svg.append("text").attr("x", 1304).attr("y", 171).attr("font-size", 29).attr("font-style", "italic")
  .attr("fill", "#059669").text("stayed strong");
svg.append("text").attr("x", 185).attr("y", 1303).attr("font-size", 29).attr("font-style", "italic")
  .attr("fill", "#dc2626").text("stayed weak");

// Note box
svg.append("rect").attr("x", 176.5).attr("y", 140.5).attr("width", 631).attr("height", 122).attr("rx", 14)
  .attr("fill", "#ffffff").attr("stroke", "#cbd5e1").attr("stroke-width", 2.5);
const noteBaselines = [177, 210, 241];
svg.append("g").selectAll("text").data(noteLines).join("text")
  .attr("x", 190).attr("y", (d, i) => noteBaselines[i]).attr("font-size", 29).attr("fill", "#1a1a2e").text(d => d);

// Legend
svg.append("circle").attr("cx", 1116).attr("cy", 1307).attr("r", 6.1).attr("fill", "#3b82f6").attr("fill-opacity", 0.55);
svg.append("text").attr("x", 1168).attr("y", 1315).attr("font-size", 29).attr("fill", "#1a1a2e").text(legendLabel);
</script>
</body>
</html>
